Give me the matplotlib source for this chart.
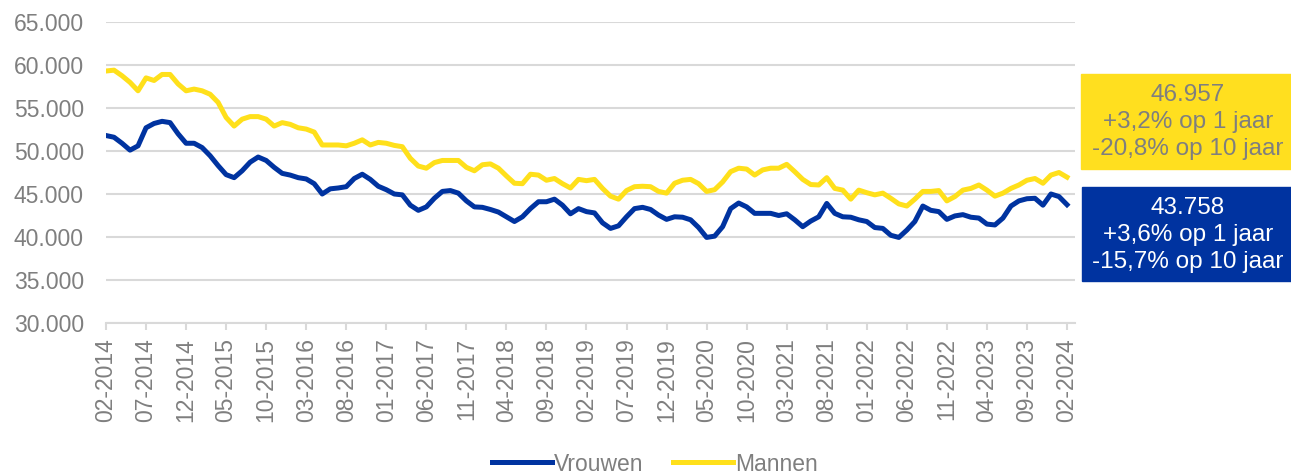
import matplotlib.pyplot as plt
from matplotlib.patches import Rectangle

plt.rcParams['font.family'] = ['Liberation Sans', 'DejaVu Sans']

# monthly series 02-2014 .. 02-2024
vrouwen = [51800, 51600, 50900, 50100, 50600, 52700, 53200, 53450, 53300, 52000,
           50900, 50900, 50400, 49450, 48300, 47250, 46900, 47700, 48700, 49300,
           48900, 48100, 47400, 47200, 46900, 46750, 46200, 45000, 45600, 45700,
           45850, 46800, 47300, 46700, 45900, 45500, 45000, 44900, 43700, 43100,
           43500, 44500, 45300, 45400, 45100, 44200, 43500, 43450, 43200, 42900,
           42350, 41800, 42350, 43300, 44100, 44100, 44400, 43700, 42700, 43300,
           42950, 42800, 41650, 41000, 41300, 42350, 43300, 43450, 43200, 42550,
           42050, 42350, 42300, 42000, 41100, 39950, 40100, 41200, 43300, 43950,
           43500, 42750, 42750, 42750, 42500, 42700, 42000, 41200, 41850, 42350,
           43900, 42750, 42350, 42300, 42000, 41800, 41100, 41000, 40200, 39950,
           40800, 41800, 43600, 43100, 42950, 42050, 42450, 42600, 42300, 42200,
           41500, 41400, 42200, 43600, 44200, 44450, 44500, 43700, 45000, 44700,
           43758]
mannen = [59300, 59400, 58750, 57980, 57000, 58500, 58200, 58900, 58900, 57800,
          57000, 57200, 57000, 56600, 55650, 53900, 52900, 53700, 54000, 54000,
          53700, 52900, 53300, 53100, 52700, 52550, 52200, 50700, 50700, 50700,
          50600, 50900, 51300, 50700, 51000, 50900, 50650, 50500, 49150, 48250,
          48000, 48650, 48900, 48900, 48900, 48100, 47700, 48400, 48500, 48000,
          47100, 46250, 46200, 47300, 47200, 46600, 46800, 46200, 45700, 46700,
          46550, 46700, 45650, 44750, 44400, 45400, 45850, 45900, 45850, 45300,
          45100, 46250, 46600, 46700, 46200, 45300, 45500, 46400, 47600, 48000,
          47900, 47200, 47800, 48000, 48000, 48450, 47600, 46700, 46100, 46050,
          46900, 45650, 45450, 44400, 45450, 45150, 44900, 45100, 44500, 43850,
          43600, 44400, 45300, 45300, 45400, 44200, 44700, 45450, 45650, 46050,
          45450, 44750, 45100, 45650, 46050, 46600, 46800, 46250, 47200, 47500,
          46957]

yticks = [30000, 35000, 40000, 45000, 50000, 55000, 60000, 65000]
ytick_labels = ['30.000', '35.000', '40.000', '45.000', '50.000', '55.000', '60.000', '65.000']

start_month, start_year = 2, 2014
dates = []
for i in range(len(vrouwen)):
    m = (start_month - 1 + i) % 12 + 1
    y = start_year + (start_month - 1 + i) // 12
    dates.append(f'{m:02d}-{y}')

label_mannen = '46.957\n+3,2% op 1 jaar\n-20,8% op 10 jaar'
label_vrouwen = '43.758\n+3,6% op 1 jaar\n-15,7% op 10 jaar'

BLUE = '#0033A0'
YELLOW = '#FFE01B'
GRAY = '#7F7F7F'
GRID = '#D9D9D9'

fig = plt.figure(figsize=(12.91, 4.73), dpi=100)
ax = fig.add_axes([106 / 1291, 1 - 323 / 473, (1075 - 106) / 1291, (323 - 22) / 473])

x = list(range(len(vrouwen)))
ax.plot(x, vrouwen, color=BLUE, lw=3.6, label='Vrouwen', solid_joinstyle='round')
ax.plot(x, mannen, color=YELLOW, lw=3.6, label='Mannen', solid_joinstyle='round')

ax.set_xlim(0, 121)
ax.set_ylim(30000, 65000)
ax.set_yticks(yticks)
ax.set_yticklabels(ytick_labels)
ax.set_xticks(x[::5])
ax.set_xticklabels(dates[::5], rotation=90)
ax.grid(True, axis='y', color=GRID, lw=1.5)
ax.set_axisbelow(True)
for s in ['top', 'right', 'left']:
    ax.spines[s].set_visible(False)
ax.spines['bottom'].set_color(GRID)
ax.spines['bottom'].set_linewidth(1.5)
ax.tick_params(axis='y', length=0, pad=16, labelsize=16.5, labelcolor=GRAY)
ax.tick_params(axis='x', length=5, width=1.5, color=GRID, pad=6, labelsize=16.5, labelcolor=GRAY)

# value boxes on the right
fig.patches.append(Rectangle((1081 / 1291, 1 - 169 / 473), 210 / 1291, 95 / 473,
                             transform=fig.transFigure, color='#FFDF1F', zorder=0))
fig.patches.append(Rectangle((1082 / 1291, 1 - 281 / 473), 209 / 1291, 94 / 473,
                             transform=fig.transFigure, color=BLUE, zorder=0))
fig.text(1188 / 1291, 1 - 122 / 473, label_mannen, ha='center', va='center',
         fontsize=17.5, color=GRAY, linespacing=1.3)
fig.text(1188 / 1291, 1 - 235 / 473, label_vrouwen, ha='center', va='center',
         fontsize=17.5, color='white', linespacing=1.3)

fig.legend(loc='center', bbox_to_anchor=(655 / 1291, 1 - 464 / 473), ncol=2, frameon=False,
           fontsize=16.5, labelcolor=GRAY, handlelength=2.6, handletextpad=0.1,
           columnspacing=1.3, borderpad=0)

fig.savefig('out.png', dpi=100)
